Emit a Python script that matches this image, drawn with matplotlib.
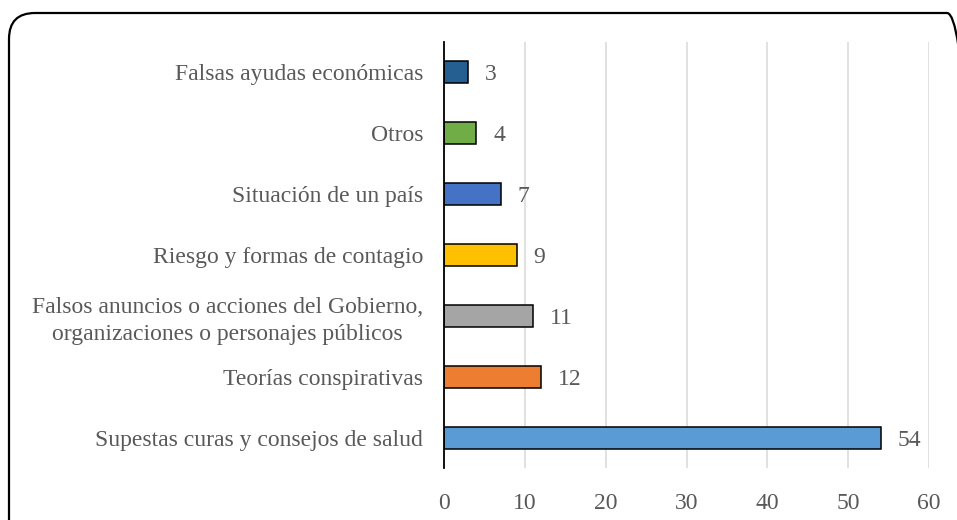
import matplotlib.pyplot as plt
from matplotlib.patches import FancyBboxPatch
from matplotlib.transforms import IdentityTransform

# data, bottom bar first
categories = [
    "Supestas curas y consejos de salud",
    "Teorías conspirativas",
    "Falsos anuncios o acciones del Gobierno,\norganizaciones o personajes públicos",
    "Riesgo y formas de contagio",
    "Situación de un país",
    "Otros",
    "Falsas ayudas económicas",
]
values = [54, 12, 11, 9, 7, 4, 3]
colors = ["#5B9BD5", "#ED7D31", "#A5A5A5", "#FFC000", "#4472C4", "#70AD47", "#255E91"]
xticks = [0, 10, 20, 30, 40, 50, 60]

plt.rcParams['font.family'] = ['Liberation Serif', 'DejaVu Serif']
txt = "#595959"

fig = plt.figure(figsize=(9.57, 5.2), dpi=100)
ax = fig.add_axes([444/957, 1 - 468/520, 485/957, 426/520])

ypos = list(range(len(values)))
ax.barh(ypos, values, height=0.36, color=colors, edgecolor="black", linewidth=1.1, zorder=3)

for y, v in zip(ypos, values):
    ax.annotate(str(v), (v, y), xytext=(12, 0), textcoords="offset points",
                va="center_baseline", ha="left", fontsize=17, color=txt)

ax.set_xlim(0, 60)
ax.set_ylim(-0.5, len(values) - 0.5)
ax.set_xticks(xticks)
ax.set_yticks(ypos)
ax.set_yticklabels(categories, multialignment="center", linespacing=1.35)
ax.tick_params(axis="both", length=0, labelsize=17, labelcolor=txt)
ax.tick_params(axis="y", pad=15)
ax.tick_params(axis="x", pad=18)

ax.grid(axis="x", color="#D9D9D9", linewidth=1.1, zorder=0)
for s in ["top", "right", "bottom"]:
    ax.spines[s].set_visible(False)
ax.spines["left"].set_linewidth(1.3)
ax.spines["left"].set_zorder(4)

# rounded frame around the chart, runs off the right and bottom edges
frame = FancyBboxPatch((9, -40), 964, 520 - 13 + 40,
                       boxstyle="round,pad=0,rounding_size=26",
                       transform=IdentityTransform(), fill=False,
                       edgecolor="black", linewidth=1.6)
fig.add_artist(frame)

fig.savefig("out.png", dpi=100)
